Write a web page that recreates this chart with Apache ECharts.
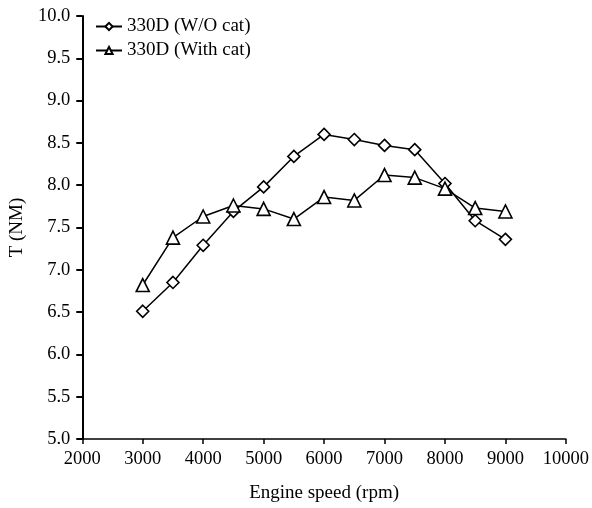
<!DOCTYPE html>
<html><head><meta charset="utf-8">
<script src="https://cdn.jsdelivr.net/npm/echarts@6/dist/echarts.min.js"></script>
<style>html,body{margin:0;padding:0;background:#fff}#c{width:592px;height:508px}</style>
</head><body><div id="c"></div>
<script>
const speeds = [3000, 3500, 4000, 4500, 5000, 5500, 6000, 6500, 7000, 7500, 8000, 8500, 9000];
const withoutCat = [6.51, 6.85, 7.29, 7.69, 7.98, 8.34, 8.60, 8.54, 8.47, 8.42, 8.02, 7.58, 7.36];
const withCat = [6.82, 7.38, 7.63, 7.76, 7.72, 7.60, 7.86, 7.82, 8.12, 8.09, 7.96, 7.73, 7.69];
const seriesNames = ['330D (W/O cat)', '330D (With cat)'];
const xName = 'Engine speed (rpm)';
const yName = 'T (NM)';

const font = '"Liberation Serif", "Times New Roman", serif';
const chart = echarts.init(document.getElementById('c'), null, {renderer: 'canvas'});
function mk(name, vals, sym, size) {
  return {
    name: name, type: 'line', data: speeds.map((s, i) => [s, vals[i]]),
    symbol: sym, symbolSize: size, showAllSymbol: true,
    lineStyle: {color: '#000', width: 1.5},
    itemStyle: {color: '#fff', borderColor: '#000', borderWidth: 1.6},
    emphasis: {disabled: true}, z: 3
  };
}
chart.setOption({
  animation: false,
  backgroundColor: '#fff',
  grid: {left: 82, right: 24, top: 16, bottom: 66, containLabel: false},
  legend: {
    left: 90, top: 12, orient: 'vertical', itemGap: 5, itemWidth: 26, itemHeight: 9,
    textStyle: {fontFamily: font, fontSize: 19, color: '#000', padding: [0, 0, 0, 0]},
    data: seriesNames
  },
  xAxis: {
    type: 'value', min: 2000, max: 10000, interval: 1000,
    name: xName, nameLocation: 'middle', nameGap: 45,
    nameTextStyle: {fontFamily: font, fontSize: 19, color: '#000'},
    axisLine: {lineStyle: {color: '#000', width: 1.5}},
    axisTick: {show: true, length: 5, lineStyle: {color: '#000', width: 1.5}},
    axisLabel: {fontFamily: font, fontSize: 18.5, color: '#000', margin: 11, formatter: v => String(v)},
    splitLine: {show: false}
  },
  yAxis: {
    type: 'value', min: 5, max: 10, interval: 0.5,
    name: yName, nameLocation: 'middle', nameGap: 51,
    nameTextStyle: {fontFamily: font, fontSize: 19, color: '#000'},
    axisLine: {show: true, lineStyle: {color: '#000', width: 2}},
    axisTick: {show: true, length: 6, lineStyle: {color: '#000', width: 2}},
    axisLabel: {fontFamily: font, fontSize: 18.5, color: '#000', margin: 12, formatter: v => v.toFixed(1)},
    splitLine: {show: false}
  },
  series: [
    mk(seriesNames[0], withoutCat, 'diamond', 12),
    mk(seriesNames[1], withCat, 'triangle', 13)
  ]
});
</script></body></html>
